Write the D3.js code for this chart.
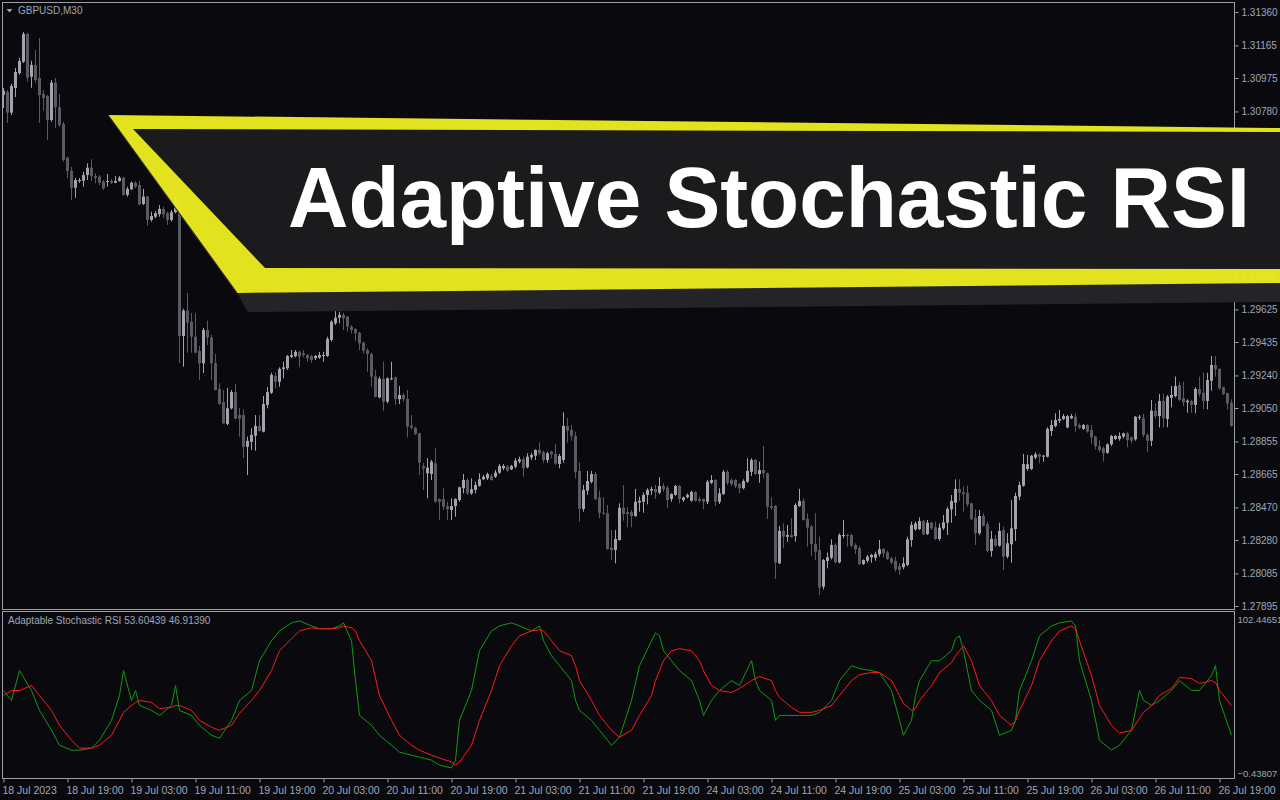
<!DOCTYPE html>
<html><head><meta charset="utf-8">
<script src="https://cdn.jsdelivr.net/npm/d3@7"></script>
<style>html,body{margin:0;padding:0;background:#0a0a0e;overflow:hidden}svg{display:block}</style>
</head><body>
<svg id="c" width="1280" height="800"></svg>
<script>
const symbolLabel = "GBPUSD,M30";
const indicatorLabel = "Adaptable Stochastic RSI 53.60439 46.91390";
const titleText = "Adaptive Stochastic RSI";
const priceTicks = [1.31360,1.31165,1.30975,1.30780,1.30585,1.30395,1.30200,1.30010,1.29820,1.29625,1.29435,1.29240,1.29050,1.28855,1.28665,1.28470,1.28280,1.28085,1.27895];
const oscTicks = [102.44651, -0.43807];
const timeTickBars = [0,16,32,48,64,80,96,112,128,144,160,176,192,208,224,240,256,272,288,304];
const timeTickLabels = ["18 Jul 2023","18 Jul 19:00","19 Jul 03:00","19 Jul 11:00","19 Jul 19:00","20 Jul 03:00","20 Jul 11:00","20 Jul 19:00","21 Jul 03:00","21 Jul 11:00","21 Jul 19:00","24 Jul 03:00","24 Jul 11:00","24 Jul 19:00","25 Jul 03:00","25 Jul 11:00","25 Jul 19:00","26 Jul 03:00","26 Jul 11:00","26 Jul 19:00"];

const open = [
1.30876,1.30893,1.30773,1.30917,1.31004,1.31070,1.31232,1.30983,1.31051,1.30975,1.30882,1.30870,1.30730,1.30948,1.30804,1.30707,1.30510,1.30433,1.30335,1.30374,
1.30376,1.30409,1.30452,1.30403,1.30399,1.30370,1.30368,1.30374,1.30364,1.30374,1.30393,1.30293,1.30326,1.30364,1.30351,1.30240,1.30283,1.30147,1.30166,1.30180,
1.30211,1.30186,1.30147,1.30192,1.30263,1.29470,1.29618,1.29553,1.29466,1.29384,1.29311,1.29505,1.29462,1.29311,1.29161,1.29085,1.28957,1.29048,1.29143,1.29009,
1.29009,1.28824,1.28853,1.28888,1.28945,1.28912,1.29068,1.29139,1.29237,1.29203,1.29278,1.29282,1.29349,1.29353,1.29378,1.29369,1.29359,1.29353,1.29340,1.29344,
1.29353,1.29353,1.29447,1.29544,1.29577,1.29593,1.29583,1.29524,1.29511,1.29489,1.29431,1.29388,1.29365,1.29233,1.29112,1.29221,1.29087,1.29219,1.29229,1.29101,
1.29126,1.29103,1.28947,1.28935,1.28902,1.28712,1.28669,1.28665,1.28727,1.28519,1.28519,1.28478,1.28455,1.28478,1.28513,1.28582,1.28630,1.28552,1.28572,1.28597,
1.28634,1.28640,1.28653,1.28649,1.28673,1.28698,1.28708,1.28692,1.28708,1.28737,1.28751,1.28704,1.28762,1.28772,1.28805,1.28792,1.28747,1.28795,1.28782,1.28723,
1.28747,1.28945,1.28922,1.28887,1.28683,1.28461,1.28568,1.28620,1.28665,1.28527,1.28439,1.28436,1.28235,1.28222,1.28280,1.28468,1.28442,1.28442,1.28420,1.28498,
1.28503,1.28543,1.28568,1.28578,1.28556,1.28595,1.28585,1.28519,1.28543,1.28595,1.28513,1.28529,1.28509,1.28560,1.28519,1.28519,1.28503,1.28614,1.28630,1.28503,
1.28548,1.28678,1.28630,1.28630,1.28607,1.28582,1.28620,1.28678,1.28747,1.28665,1.28688,1.28669,1.28478,1.28478,1.28144,1.28333,1.28299,1.28309,1.28303,1.28478,
1.28508,1.28403,1.28358,1.28257,1.28222,1.28008,1.28158,1.28177,1.28251,1.28150,1.28305,1.28309,1.28309,1.28251,1.28232,1.28140,1.28159,1.28179,1.28177,1.28197,
1.28228,1.28208,1.28173,1.28158,1.28128,1.28121,1.28134,1.28280,1.28342,1.28344,1.28391,1.28315,1.28381,1.28354,1.28286,1.28348,1.28381,1.28459,1.28498,1.28578,
1.28558,1.28556,1.28494,1.28410,1.28319,1.28420,1.28372,1.28216,1.28286,1.28247,1.28338,1.28183,1.28255,1.28344,1.28533,1.28597,1.28694,1.28694,1.28760,1.28780,
1.28766,1.28766,1.28916,1.28945,1.28976,1.28986,1.28937,1.28990,1.28999,1.28951,1.28928,1.28951,1.28922,1.28883,1.28828,1.28815,1.28789,1.28838,1.28869,1.28869,
1.28883,1.28902,1.28879,1.28867,1.28993,1.28990,1.28893,1.28859,1.29034,1.29003,1.29091,1.28986,1.29110,1.29120,1.29184,1.29107,1.29083,1.29091,1.29068,1.29161,
1.29139,1.29091,1.29209,1.29301,1.29278,1.29171,1.29136,1.29081];
const high = [
1.30917,1.30905,1.30940,1.31033,1.31092,1.31243,1.31238,1.31076,1.31138,1.31208,1.30905,1.30876,1.30963,1.30975,1.30882,1.30720,1.30516,1.30456,1.30392,1.30392,
1.30428,1.30477,1.30501,1.30419,1.30409,1.30380,1.30415,1.30386,1.30403,1.30403,1.30399,1.30341,1.30370,1.30374,1.30374,1.30328,1.30287,1.30195,1.30199,1.30234,
1.30224,1.30195,1.30205,1.30283,1.30322,1.29628,1.29721,1.29604,1.29602,1.29412,1.29517,1.29559,1.29476,1.29365,1.29194,1.29155,1.29167,1.29155,1.29190,1.29050,
1.29042,1.28883,1.28932,1.29009,1.29009,1.29120,1.29173,1.29256,1.29256,1.29287,1.29320,1.29359,1.29388,1.29388,1.29384,1.29388,1.29365,1.29359,1.29359,1.29377,
1.29378,1.29466,1.29563,1.29632,1.29612,1.29606,1.29587,1.29534,1.29515,1.29495,1.29437,1.29398,1.29373,1.29272,1.29233,1.29320,1.29229,1.29320,1.29233,1.29178,
1.29136,1.29155,1.29009,1.28941,1.28906,1.28731,1.28758,1.28747,1.28815,1.28523,1.28582,1.28503,1.28523,1.28523,1.28591,1.28665,1.28640,1.28640,1.28620,1.28669,
1.28659,1.28673,1.28665,1.28688,1.28723,1.28723,1.28718,1.28718,1.28757,1.28766,1.28766,1.28786,1.28789,1.28809,1.28850,1.28801,1.28795,1.28801,1.28840,1.28782,
1.29025,1.28992,1.28951,1.28912,1.28733,1.28601,1.28683,1.28684,1.28678,1.28568,1.28529,1.28484,1.28338,1.28338,1.28494,1.28601,1.28471,1.28455,1.28578,1.28533,
1.28558,1.28582,1.28591,1.28601,1.28646,1.28611,1.28595,1.28552,1.28601,1.28601,1.28533,1.28552,1.28568,1.28562,1.28533,1.28523,1.28630,1.28659,1.28636,1.28582,
1.28688,1.28688,1.28640,1.28634,1.28614,1.28634,1.28757,1.28757,1.28751,1.28737,1.28828,1.28673,1.28529,1.28484,1.28362,1.28377,1.28368,1.28407,1.28494,1.28578,
1.28523,1.28436,1.28368,1.28436,1.28299,1.28169,1.28206,1.28284,1.28261,1.28319,1.28397,1.28315,1.28315,1.28261,1.28245,1.28167,1.28193,1.28198,1.28212,1.28280,
1.28232,1.28218,1.28183,1.28183,1.28144,1.28179,1.28299,1.28387,1.28387,1.28412,1.28397,1.28397,1.28387,1.28387,1.28377,1.28426,1.28474,1.28543,1.28634,1.28634,
1.28591,1.28597,1.28498,1.28459,1.28455,1.28436,1.28387,1.28333,1.28309,1.28381,1.28358,1.28319,1.28513,1.28556,1.28620,1.28782,1.28776,1.28776,1.28792,1.28786,
1.28776,1.28937,1.28980,1.29019,1.29038,1.29015,1.29009,1.29015,1.29019,1.28961,1.28957,1.28957,1.28951,1.28887,1.28863,1.28824,1.28844,1.28893,1.28893,1.28908,
1.28906,1.28912,1.28883,1.29003,1.29009,1.29015,1.28902,1.29097,1.29077,1.29132,1.29132,1.29126,1.29178,1.29233,1.29203,1.29203,1.29101,1.29097,1.29171,1.29233,
1.29258,1.29256,1.29353,1.29353,1.29282,1.29174,1.29139,1.29101];
const low = [
1.30800,1.30713,1.30759,1.30864,1.30993,1.31063,1.30953,1.30918,1.30948,1.30713,1.30784,1.30613,1.30720,1.30683,1.30691,1.30487,1.30392,1.30263,1.30277,1.30363,
1.30341,1.30380,1.30374,1.30361,1.30351,1.30322,1.30341,1.30357,1.30361,1.30370,1.30288,1.30283,1.30322,1.30332,1.30234,1.30234,1.30113,1.30137,1.30157,1.30166,
1.30157,1.30118,1.30137,1.30186,1.29313,1.29291,1.29373,1.29373,1.29369,1.29213,1.29254,1.29418,1.29213,1.29151,1.29068,1.28957,1.28950,1.29042,1.28985,1.28883,
1.28758,1.28659,1.28805,1.28801,1.28912,1.28908,1.29048,1.29132,1.29165,1.29174,1.29223,1.29272,1.29340,1.29346,1.29291,1.29346,1.29320,1.29314,1.29330,1.29336,
1.29320,1.29349,1.29437,1.29534,1.29544,1.29505,1.29495,1.29486,1.29441,1.29388,1.29369,1.29262,1.29174,1.29112,1.29107,1.29034,1.29077,1.29213,1.29068,1.29073,
1.29087,1.28879,1.28926,1.28893,1.28659,1.28572,1.28523,1.28630,1.28498,1.28397,1.28455,1.28397,1.28397,1.28416,1.28503,1.28552,1.28543,1.28543,1.28552,1.28591,
1.28630,1.28630,1.28626,1.28642,1.28665,1.28688,1.28678,1.28688,1.28698,1.28727,1.28649,1.28698,1.28747,1.28747,1.28776,1.28731,1.28731,1.28757,1.28718,1.28698,
1.28731,1.28848,1.28859,1.28640,1.28387,1.28445,1.28543,1.28611,1.28513,1.28407,1.28426,1.28222,1.28163,1.28144,1.28276,1.28393,1.28354,1.28354,1.28416,1.28445,
1.28439,1.28488,1.28543,1.28519,1.28548,1.28562,1.28468,1.28503,1.28538,1.28494,1.28503,1.28523,1.28503,1.28503,1.28498,1.28461,1.28490,1.28607,1.28478,1.28490,
1.28543,1.28601,1.28595,1.28582,1.28552,1.28576,1.28614,1.28653,1.28659,1.28614,1.28640,1.28403,1.28455,1.28053,1.28140,1.28232,1.28270,1.28294,1.28270,1.28474,
1.28393,1.28241,1.28187,1.28163,1.27959,1.27992,1.28115,1.28167,1.28144,1.28144,1.28290,1.28241,1.28237,1.28198,1.28134,1.28134,1.28148,1.28148,1.28159,1.28183,
1.28179,1.28163,1.28140,1.28095,1.28076,1.28109,1.28128,1.28241,1.28334,1.28338,1.28309,1.28309,1.28338,1.28280,1.28276,1.28338,1.28309,1.28381,1.28420,1.28508,
1.28445,1.28474,1.28397,1.28251,1.28309,1.28358,1.28208,1.28183,1.28241,1.28241,1.28105,1.28173,1.28148,1.28274,1.28513,1.28591,1.28684,1.28688,1.28751,1.28727,
1.28737,1.28762,1.28887,1.28937,1.28964,1.28980,1.28932,1.28986,1.28912,1.28926,1.28922,1.28906,1.28840,1.28809,1.28795,1.28737,1.28782,1.28828,1.28863,1.28859,
1.28873,1.28821,1.28844,1.28859,1.28980,1.28879,1.28795,1.28828,1.28990,1.28937,1.28937,1.28937,1.29054,1.29112,1.29091,1.29062,1.29023,1.29023,1.29019,1.29116,
1.29044,1.29042,1.29151,1.29233,1.29155,1.29126,1.29042,1.28941];
const close = [
1.30901,1.30773,1.30928,1.31010,1.31074,1.31232,1.30977,1.31051,1.30963,1.30876,1.30858,1.30730,1.30948,1.30804,1.30701,1.30497,1.30433,1.30335,1.30380,1.30380,
1.30409,1.30452,1.30403,1.30393,1.30364,1.30332,1.30374,1.30364,1.30374,1.30393,1.30293,1.30328,1.30364,1.30341,1.30238,1.30283,1.30147,1.30170,1.30186,1.30211,
1.30180,1.30147,1.30192,1.30263,1.29470,1.29618,1.29548,1.29466,1.29373,1.29311,1.29505,1.29462,1.29311,1.29155,1.29073,1.28961,1.29048,1.29143,1.28988,1.28988,
1.28824,1.28858,1.28893,1.28945,1.28916,1.29073,1.29143,1.29243,1.29203,1.29278,1.29287,1.29353,1.29359,1.29378,1.29349,1.29359,1.29340,1.29330,1.29353,1.29359,
1.29359,1.29453,1.29553,1.29577,1.29593,1.29573,1.29524,1.29505,1.29486,1.29427,1.29384,1.29365,1.29233,1.29116,1.29221,1.29087,1.29223,1.29223,1.29103,1.29126,
1.29101,1.28941,1.28935,1.28898,1.28731,1.28698,1.28702,1.28737,1.28503,1.28503,1.28474,1.28459,1.28478,1.28519,1.28587,1.28630,1.28552,1.28576,1.28601,1.28634,
1.28649,1.28665,1.28630,1.28673,1.28712,1.28712,1.28684,1.28712,1.28743,1.28751,1.28698,1.28766,1.28776,1.28805,1.28786,1.28747,1.28786,1.28780,1.28727,1.28770,
1.28945,1.28918,1.28887,1.28678,1.28461,1.28572,1.28624,1.28665,1.28519,1.28439,1.28433,1.28228,1.28222,1.28286,1.28468,1.28432,1.28432,1.28420,1.28503,1.28509,
1.28543,1.28572,1.28578,1.28558,1.28595,1.28576,1.28513,1.28548,1.28595,1.28519,1.28529,1.28543,1.28560,1.28509,1.28509,1.28503,1.28620,1.28630,1.28503,1.28552,
1.28678,1.28614,1.28607,1.28595,1.28582,1.28624,1.28683,1.28747,1.28665,1.28688,1.28669,1.28474,1.28468,1.28148,1.28333,1.28299,1.28309,1.28296,1.28484,1.28508,
1.28397,1.28352,1.28257,1.28212,1.28002,1.28163,1.28179,1.28251,1.28150,1.28309,1.28309,1.28303,1.28247,1.28226,1.28140,1.28163,1.28183,1.28193,1.28198,1.28226,
1.28202,1.28169,1.28148,1.28109,1.28105,1.28144,1.28284,1.28368,1.28377,1.28391,1.28313,1.28381,1.28348,1.28286,1.28352,1.28383,1.28461,1.28508,1.28578,1.28556,
1.28548,1.28488,1.28403,1.28319,1.28420,1.28363,1.28216,1.28286,1.28247,1.28333,1.28183,1.28261,1.28348,1.28537,1.28601,1.28723,1.28722,1.28772,1.28780,1.28766,
1.28772,1.28928,1.28951,1.28980,1.28986,1.29003,1.29003,1.29003,1.28945,1.28935,1.28951,1.28912,1.28879,1.28828,1.28805,1.28786,1.28838,1.28887,1.28887,1.28887,
1.28902,1.28863,1.28859,1.28999,1.28999,1.28893,1.28859,1.29034,1.29003,1.29091,1.28990,1.29116,1.29126,1.29178,1.29097,1.29083,1.29093,1.29068,1.29161,1.29132,
1.29091,1.29213,1.29301,1.29276,1.29165,1.29132,1.29077,1.28945];

// oscillator samples: bar index, fast (green) and slow (red) values
const oscBar = [0,2,4,7,9,12,14,17,19,22,24,27,29,30,32,33,34,37,39,42,43,44,47,49,52,54,57,59,62,64,67,69,72,74,77,79,82,84,85,87,88,89,92,94,97,99,102,104,107,109,112,113,114,117,119,122,124,127,129,132,134,135,137,139,142,143,144,147,149,152,154,157,159,162,163,164,165,167,169,172,174,175,177,179,182,184,187,188,189,192,193,194,197,199,202,204,207,209,212,214,217,219,222,224,225,227,228,229,232,234,237,238,239,240,242,244,247,249,252,253,254,257,259,262,264,267,268,269,272,274,277,279,282,284,285,287,289,292,294,297,299,302,303,304,307];
const oscFast = [54.1,47.9,66.5,54.1,41.7,29.3,20.0,16.9,16.9,18.2,23.1,35.5,51.0,66.5,47.9,54.1,44.8,41.7,38.6,44.8,57.2,41.7,38.6,32.4,26.2,24.4,35.5,47.9,54.1,72.7,85.1,91.3,96.3,97.5,94.4,92.6,92.6,94.4,96.3,85.1,60.3,38.6,32.4,26.2,20.0,15.7,13.8,12.6,10.7,7.6,5.8,10.7,35.5,54.1,78.9,91.3,94.4,96.3,94.4,91.3,94.4,85.1,75.8,69.6,60.3,47.9,41.7,35.5,29.3,20.0,25.0,47.9,69.6,85.1,90.1,88.2,78.9,72.7,66.5,60.3,47.9,38.6,47.9,54.1,60.3,57.2,72.7,60.3,54.1,47.9,35.5,38.6,38.6,38.6,38.6,40.5,47.9,60.3,69.6,67.8,66.5,65.3,54.1,35.5,26.2,35.5,51.0,60.3,72.7,72.7,78.9,86.4,88.2,78.9,54.1,47.9,41.7,26.2,29.3,35.5,54.1,72.7,88.2,94.4,96.3,97.5,94.4,72.7,47.9,23.1,16.9,20.0,29.3,54.1,47.9,44.8,47.9,54.1,60.3,54.1,54.1,63.4,69.6,47.9,26.2];
const oscSlow = [51.0,54.1,54.1,57.2,51.0,41.7,32.4,23.1,18.2,18.2,20.0,26.2,35.5,40.5,44.8,46.7,47.9,46.7,42.9,43.6,44.8,44.8,41.7,35.5,31.2,29.3,32.4,39.9,47.9,54.1,66.5,78.9,86.4,91.3,93.2,92.6,92.6,93.2,94.4,93.2,91.3,85.1,72.7,51.0,35.5,26.2,20.0,16.9,13.8,12.0,9.5,7.6,9.5,20.0,35.5,54.1,69.6,82.0,88.2,91.3,92.0,91.3,85.1,78.9,75.8,69.6,60.3,47.9,38.6,29.3,25.0,29.3,38.6,51.0,60.3,66.5,72.7,78.9,80.2,78.9,72.7,66.5,57.2,54.1,52.9,55.4,60.3,61.6,62.8,60.3,54.1,49.8,43.6,40.5,40.5,41.7,44.8,51.0,60.3,64.0,65.3,65.3,60.3,51.0,46.1,41.7,42.9,47.9,57.2,65.3,71.5,75.8,78.9,82.0,72.7,57.2,47.9,38.6,32.4,35.5,41.7,57.2,72.7,85.1,91.3,94.4,92.6,85.1,63.4,44.8,32.4,27.5,29.3,36.8,40.5,44.8,51.0,55.4,62.2,61.6,58.5,60.3,59.1,54.1,44.8];

const W = 1280, H = 800;
const FONT = "'Liberation Sans', Arial, sans-serif";
const TXT = "#9ea6b8";
const FRAME = "#9c9ca4";
const BULL = "#a3a3ae", BEAR = "#5a5a62";

const svg = d3.select("#c");
svg.append("rect").attr("width", W).attr("height", H).attr("fill", "#0a0a0e");

const bars = d3.range(open.length).map(i => ({i, o: open[i], h: high[i], l: low[i], c: close[i]}));
const x = d3.scaleLinear().domain([0, 307]).range([3.5, 1231.5]);
const y = d3.scaleLinear().domain([1.27895, 1.31360]).range([606, 12]);
const yo = d3.scaleLinear().domain([-0.43807, 102.44651]).range([778, 613]);

const defs = svg.append("defs");
defs.append("clipPath").attr("id", "mainClip").append("rect").attr("x", 3).attr("y", 3).attr("width", 1231).attr("height", 606);
defs.append("clipPath").attr("id", "oscClip").append("rect").attr("x", 3).attr("y", 612).attr("width", 1231).attr("height", 166);

// candles
const cg = svg.append("g").attr("clip-path", "url(#mainClip)");
const col = d => d.c >= d.o ? BULL : BEAR;
cg.selectAll("rect.wick").data(bars).join("rect").attr("class", "wick")
  .attr("x", d => Math.floor(x(d.i))).attr("width", 1)
  .attr("y", d => y(d.h)).attr("height", d => Math.max(1, y(d.l) - y(d.h)))
  .attr("fill", col);
cg.selectAll("rect.body").data(bars).join("rect").attr("class", "body")
  .attr("x", d => Math.floor(x(d.i)) - 1).attr("width", 3)
  .attr("y", d => y(Math.max(d.o, d.c))).attr("height", d => Math.max(1, Math.abs(y(d.o) - y(d.c))))
  .attr("fill", col);

// frames
svg.append("rect").attr("x", 2.5).attr("y", 2.5).attr("width", 1232).attr("height", 607)
  .attr("fill", "none").attr("stroke", FRAME).attr("stroke-width", 1);
svg.append("rect").attr("x", 2.5).attr("y", 611.5).attr("width", 1232).attr("height", 167)
  .attr("fill", "none").attr("stroke", FRAME).attr("stroke-width", 1);

// price axis
const pa = svg.append("g").attr("transform", "translate(1234.5,0)")
  .call(d3.axisRight(y).tickValues(priceTicks).tickSize(4).tickPadding(3).tickFormat(d3.format(".5f")));
pa.select(".domain").remove();
pa.selectAll("line").attr("stroke", FRAME);
pa.selectAll("text").attr("fill", TXT).style("font-family", FONT).style("font-size", "10px");

// oscillator axis labels
const oa = svg.append("g").attr("transform", "translate(1234.5,0)")
  .call(d3.axisRight(yo).tickValues(oscTicks).tickSize(0).tickPadding(3).tickFormat(d3.format(".5f")));
oa.select(".domain").remove();
oa.selectAll("text").attr("fill", TXT).style("font-family", FONT).style("font-size", "9.5px")
  .attr("dy", (d) => d > 50 ? "1.0em" : "-0.2em");

// time axis
const ta = svg.append("g").attr("transform", "translate(0,778.5)")
  .call(d3.axisBottom(x).tickValues(timeTickBars).tickSize(4).tickPadding(4)
    .tickFormat((d, i) => timeTickLabels[i]));
ta.select(".domain").remove();
ta.selectAll("line").attr("stroke", FRAME);
ta.selectAll("text").attr("fill", TXT).style("font-family", FONT).style("font-size", "10.5px")
  .attr("text-anchor", "start").attr("x", -1.5);

// oscillator lines
const og = svg.append("g").attr("clip-path", "url(#oscClip)");
const fastPts = oscBar.map((b, k) => [b, oscFast[k]]);
const slowPts = oscBar.map((b, k) => [b, oscSlow[k]]);
const line = d3.line().x(d => x(d[0])).y(d => yo(d[1]));
og.append("path").datum(fastPts).attr("d", line).attr("fill", "none").attr("stroke", "#0f9a0f").attr("stroke-width", 1);
og.append("path").datum(slowPts).attr("d", line).attr("fill", "none").attr("stroke", "#ff1a1a").attr("stroke-width", 1);

// labels
svg.append("path").attr("d", "M6.5,9 L12.5,9 L9.5,12.5 Z").attr("fill", TXT);
svg.append("text").attr("x", 18).attr("y", 14).text(symbolLabel)
  .attr("fill", TXT).style("font-family", FONT).style("font-size", "10px");
svg.append("text").attr("x", 8).attr("y", 624).text(indicatorLabel)
  .attr("fill", TXT).style("font-family", FONT).style("font-size", "10px");

// banner
const banner = svg.append("g");
banner.append("polygon").attr("points", "237,293 1280,282 1280,302 248,312").attr("fill", "#242428");
banner.append("polygon").attr("points", "108,115 1280,128 1280,283 237,293")
  .attr("fill", "#ebeb20").attr("fill-opacity", 0.96);
banner.append("line").attr("x1", 108).attr("y1", 115).attr("x2", 237).attr("y2", 293)
  .attr("stroke", "#2a2a2c").attr("stroke-width", 1.2);
banner.append("polygon").attr("points", "133,129 1280,132 1280,269 265,268").attr("fill", "#1b1b1e");
banner.append("text").attr("x", 288).attr("y", 227).text(titleText)
  .attr("fill", "#ffffff").style("font-family", FONT).style("font-weight", "bold").style("font-size", "85px")
  .attr("textLength", 962).attr("lengthAdjust", "spacingAndGlyphs");
</script>
</body></html>
